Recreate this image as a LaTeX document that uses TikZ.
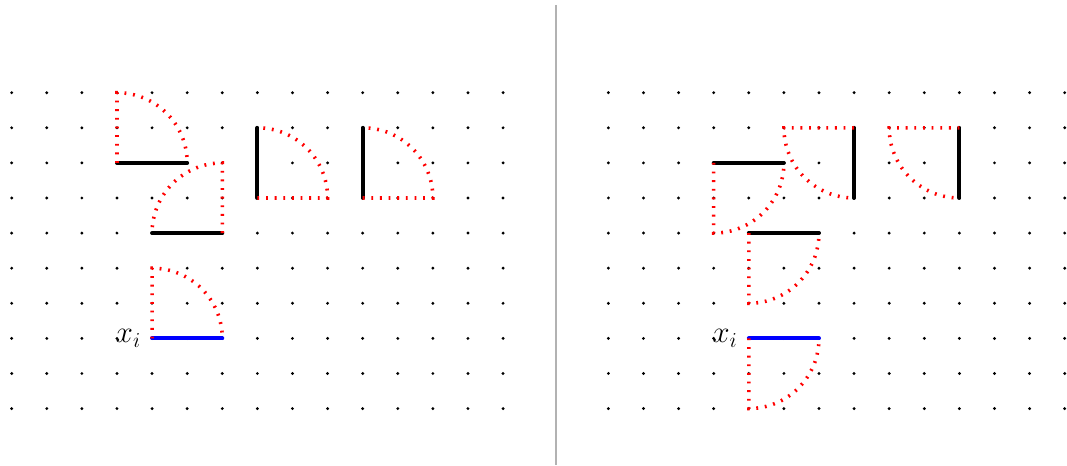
\documentclass[tikz,border=0pt]{standalone}
\usepackage{tikz}

\begin{document}
\begin{tikzpicture}[
        punto/.style={fill=black},
        lato/.style={line width=3.2pt, line cap=round},
        arco/.style={red, line width=2.9pt, dash pattern=on 1.5pt off 5.5pt},
        separatore/.style={black!30, line width=1.6pt},
        etichetta/.style={anchor=east, inner sep=9pt, font=\fontsize{23}{27}\selectfont}
    ]
        % --- macro riutilizzabili -----------------------------------------
        \def\raggio{2}       % raggio di ogni settore
        % #1 centro, #2 colore del lato, #3 angolo del lato, #4 angolo rosso
        \def\settore#1#2#3#4{
            \draw[lato,#2] (#1) -- ++(#3:\raggio);
            \draw[arco] (#1) -- ++(#4:\raggio)
                arc[start angle=#4, end angle=#3, radius=\raggio];
        }
        \useasboundingbox (-0.333,2.641) rectangle (30.066,-10.607);
        % --- griglie di punti ---------------------------------------------
        \foreach \i in {0,...,14}
            \foreach \j in {0,...,9}
                \fill[punto] (\i,-\j) circle (1.3pt);
        \foreach \i in {17,...,30}
            \foreach \j in {0,...,9}
                \fill[punto] (\i,-\j) circle (1.3pt);
        % --- separatore ---------------------------------------------------
        \coordinate (sopra) at (15.5, 2.5);
        \coordinate (sotto) at (15.5,-10.607);
        \draw[separatore] (sopra) -- (sotto);
        % --- settori a sinistra -------------------------------------------
        \coordinate (a1) at ( 3,-2);
        \coordinate (a2) at ( 6,-4);
        \coordinate (a3) at ( 7,-3);
        \coordinate (a4) at (10,-3);
        \coordinate (a5) at ( 4,-7);
        \settore{a1}{black}{0}{90}
        \settore{a2}{black}{180}{90}
        \settore{a3}{black}{90}{0}
        \settore{a4}{black}{90}{0}
        \settore{a5}{blue}{0}{90}
        \node[etichetta] (xa) at (a5) {$x_i$};
        % --- settori a destra ---------------------------------------------
        \coordinate (b1) at (20,-2);
        \coordinate (b2) at (24,-1);
        \coordinate (b3) at (21,-4);
        \coordinate (b4) at (27,-1);
        \coordinate (b5) at (21,-7);
        \settore{b1}{black}{360}{270}
        \settore{b2}{black}{270}{180}
        \settore{b3}{black}{360}{270}
        \settore{b4}{black}{270}{180}
        \settore{b5}{blue}{360}{270}
        \node[etichetta] (xb) at (b5) {$x_i$};
    \end{tikzpicture}
\end{document}
